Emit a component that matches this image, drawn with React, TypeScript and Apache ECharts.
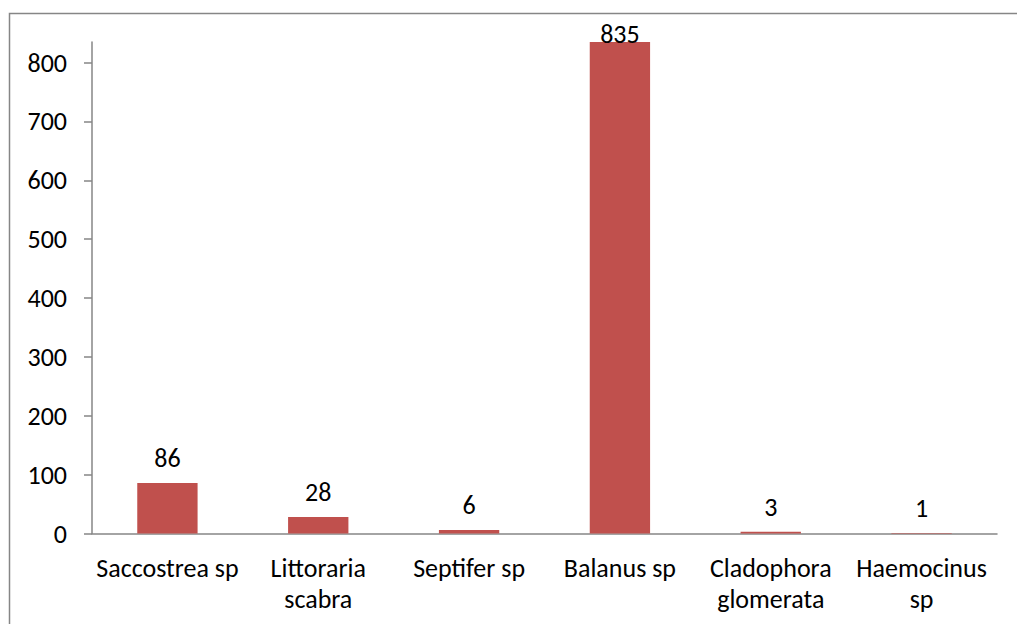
import React, { useEffect, useRef } from "react";
import * as echarts from "echarts";

const categories = [
  "Saccostrea sp",
  "Littoraria\nscabra",
  "Septifer sp",
  "Balanus sp",
  "Cladophora\nglomerata",
  "Haemocinus\nsp",
];
const counts = [86, 28, 6, 835, 3, 1];
const yTicks = [0, 100, 200, 300, 400, 500, 600, 700, 800];
const yMax = 835;

const FONT = "Carlito, Calibri, Lato, 'Liberation Sans', sans-serif";

export default function App() {
  const ref = useRef<HTMLDivElement>(null);
  useEffect(() => {
    if (!ref.current) return;
    const chart = echarts.init(ref.current, undefined, { renderer: "svg" });
    chart.setOption({
      animation: false,
      backgroundColor: "#ffffff",
      graphic: [
        {
          type: "rect",
          shape: { x: 9.5, y: 13.5, width: 1200, height: 800 },
          style: { fill: "none", stroke: "#868686", lineWidth: 1.5 },
          silent: true,
        },
      ],
      grid: { left: 92, right: 20, top: 42, bottom: 90.5 },
      xAxis: {
        type: "category",
        data: categories,
        axisLine: { lineStyle: { color: "#868686", width: 1.5 } },
        axisTick: { length: 8, alignWithLabel: false, lineStyle: { color: "#868686", width: 1.5 } },
        axisLabel: {
          color: "#000",
          fontFamily: FONT,
          fontSize: 26,
          lineHeight: 31,
          margin: 19,
          interval: 0,
        },
      },
      yAxis: {
        type: "value",
        min: 0,
        max: yMax,
        interval: 100,
        splitLine: { show: false },
        axisLine: { show: true, lineStyle: { color: "#868686", width: 1.5 } },
        axisTick: {
          show: true,
          length: 8,
          customValues: yTicks,
          lineStyle: { color: "#868686", width: 1.5 },
        },
        axisLabel: {
          color: "#000",
          fontFamily: FONT,
          fontSize: 26,
          margin: 25,
          customValues: yTicks,
        },
      },
      series: [
        {
          type: "bar",
          data: counts.map((v) => ({
            value: v,
            label: { distance: v >= yMax ? -5 : 12 },
          })),
          barCategoryGap: "60%",
          itemStyle: { color: "#C0504D" },
          label: {
            show: true,
            position: "top",
            color: "#000",
            fontFamily: FONT,
            fontSize: 26,
          },
        },
      ],
    });
    return () => chart.dispose();
  }, []);
  return (
    <div
      ref={ref}
      style={{ position: "fixed", left: 0, top: 0, width: 1017, height: 624 }}
    />
  );
}
